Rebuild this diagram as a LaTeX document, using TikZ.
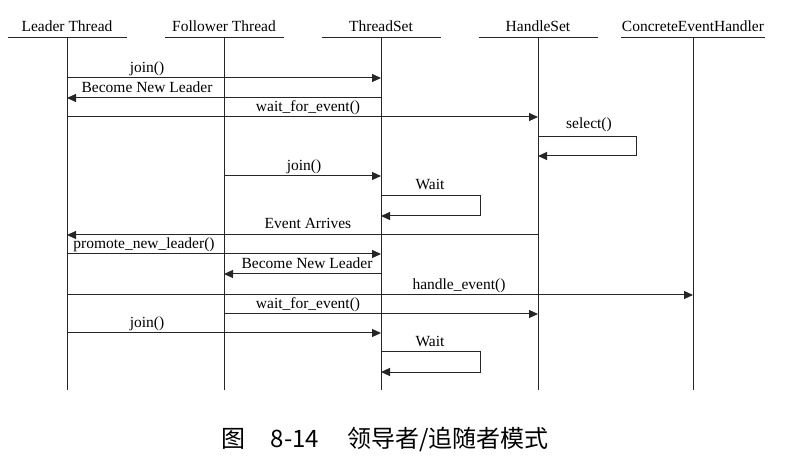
\documentclass[tikz,border=0pt]{standalone}
\usepackage{fontspec}
\setmainfont{Liberation Serif}
\newfontfamily\cjkfont{Noto Sans CJK SC}
\usetikzlibrary{arrows.meta,positioning}

\begin{document}
\begin{tikzpicture}[x=1pt, y=-1pt, line width=1pt, draw=black!85,
                every node/.style={font=\fontsize{15.5}{18}\selectfont},
                head/.style={minimum width=118pt, inner xsep=0pt, inner ysep=6pt, text depth=0pt, anchor=south},
                msg/.style={-{Triangle[length=9pt,width=8pt]}},
                lbl/.style={anchor=base, inner sep=0pt},
                captext/.style={font=\cjkfont\fontsize{24}{28}\selectfont, inner sep=0pt}
            ]
\useasboundingbox (0,0) rectangle (812,473);

% --- lifeline heads ---
                \node[head] (leader)   at (67,38)  {Leader Thread};
                \node[head] (follower) at (224,38) {Follower Thread};
                \node[head] (tset)     at (381,38) {ThreadSet};
                \node[head] (hset)     at (538,38) {HandleSet};
                \node[head] (ceh)      at (693,38) {ConcreteEventHandler};

% --- underlines and lifelines ---
                \foreach \obj in {leader,follower,tset,hset,ceh} {
                    \draw (\obj.south west) -- (\obj.south east);
                    \draw (\obj.south) -- (\obj.south |- 0,390);
                }

% --- messages ---
                \draw[msg] (leader |- 0,78)  -- (tset |- 0,78);      % join()
                \node[lbl] (m1) at (147,72.5) {join()};
                \draw[msg] (tset |- 0,98)    -- (leader |- 0,98);    % become leader
                \node[lbl] (m2) at (147,92.5) {Become New Leader};
                \draw[msg] (leader |- 0,117) -- (hset |- 0,117);     % wait
                \node[lbl] (m3) at (308,111.5) {wait\_for\_event()};

                \draw[msg] (hset |- 0,137) -- ++(98,0) -- ++(0,19) -- (hset |- 0,156); % select loop
                \node[lbl] (m4) at (589,128.5) {select()};

                \draw[msg] (follower |- 0,176) -- (tset |- 0,176);   % join()
                \node[lbl] (m5) at (304,170.5) {join()};

                \draw[msg] (tset |- 0,196) -- ++(99,0) -- ++(0,20) -- (tset |- 0,216); % wait loop
                \node[lbl] (m6) at (430,190) {Wait};

                \draw[msg] (hset |- 0,235) -- (leader |- 0,235);     % event
                \node[lbl] (m7) at (308,228.5) {Event Arrives};
                \draw[msg] (leader |- 0,254) -- (tset |- 0,254);     % promote
                \node[lbl] (m8) at (144,249) {promote\_new\_leader()};
                \draw[msg] (tset |- 0,274) -- (follower |- 0,274);   % become leader
                \node[lbl] (m9) at (307,268.5) {Become New Leader};
                \draw[msg] (leader |- 0,295) -- (ceh |- 0,295);      % handle
                \node[lbl] (m10) at (459,289.5) {handle\_event()};
                \draw[msg] (follower |- 0,314) -- (hset |- 0,314);   % wait
                \node[lbl] (m11) at (308,308.5) {wait\_for\_event()};
                \draw[msg] (leader |- 0,333) -- (tset |- 0,333);     % join()
                \node[lbl] (m12) at (147,327.5) {join()};

                \draw[msg] (tset |- 0,352) -- ++(99,0) -- ++(0,20) -- (tset |- 0,372); % wait loop
                \node[lbl] (m13) at (430,346.5) {Wait};

% --- caption ---
                \node[captext] (fig)   at (233,439) {图};
                \node[captext] (num)   at (295,439) {8-14};
                \node[captext] (title) at (448,439) {领导者/追随者模式};

            \end{tikzpicture}
\end{document}
